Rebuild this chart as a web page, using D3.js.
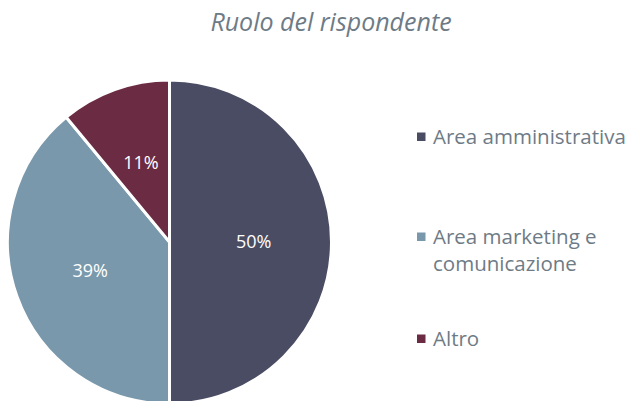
<!DOCTYPE html>
<html>
<head>
<meta charset="utf-8">
<script src="https://cdn.jsdelivr.net/npm/d3@7"></script>
<style>
  html, body { margin: 0; padding: 0; background: #fff; }
  svg { display: block; font-family: "Open Sans", Lato, sans-serif; }
</style>
</head>
<body>
<svg id="chart"></svg>
<script>
// data
const categories = ["Area amministrativa", "Area marketing e comunicazione", "Altro"];
const values = [50, 39, 11];
const legendLines = [["Area amministrativa"], ["Area marketing e", "comunicazione"], ["Altro"]];
const colors = ["#4a4c63", "#7a98ab", "#6b2b42"];

const width = 632;
const height = 401;
const radius = 162;
const cx = 169.5;
const cy = 242;

const svg = d3.select("#chart")
  .attr("width", width)
  .attr("height", height)
  .attr("viewBox", `0 0 ${width} ${height}`);

// title
svg.append("text")
  .attr("x", 331)
  .attr("y", 31)
  .attr("text-anchor", "middle")
  .attr("font-style", "italic")
  .attr("font-size", 25)
  .attr("fill", "#6e7b86")
  .text("Ruolo del rispondente");

const color = d3.scaleOrdinal().domain(categories).range(colors);

const pie = d3.pie().sort(null).value((d) => d.value);
const data = categories.map((c, i) => ({ name: c, value: values[i] }));
const arcs = pie(data);

const arc = d3.arc().innerRadius(0).outerRadius(radius);
const labelArc = d3.arc().innerRadius(radius * 0.52).outerRadius(radius * 0.52);

const g = svg.append("g").attr("transform", `translate(${cx},${cy})`);

g.selectAll("path")
  .data(arcs)
  .join("path")
  .attr("d", arc)
  .attr("fill", (d) => color(d.data.name))
  .attr("stroke", "#fff")
  .attr("stroke-width", 3)
  .attr("stroke-linejoin", "round");

const total = d3.sum(values);
g.selectAll("text.lbl")
  .data(arcs)
  .join("text")
  .attr("class", "lbl")
  .attr("transform", (d) => `translate(${labelArc.centroid(d)})`)
  .attr("text-anchor", "middle")
  .attr("dy", "0.36em")
  .attr("font-size", 18)
  .attr("fill", "#fff")
  .text((d) => Math.round((d.data.value / total) * 100) + "%");

// legend
const legendY = [137, 237, 339];
const legend = svg.append("g").attr("transform", "translate(417,0)");
const items = legend.selectAll("g")
  .data(categories)
  .join("g")
  .attr("transform", (d, i) => `translate(0,${legendY[i]})`);

items.append("rect")
  .attr("x", 0)
  .attr("y", -4.5)
  .attr("width", 8.5)
  .attr("height", 8.5)
  .attr("fill", (d) => color(d));

items.append("text")
  .attr("x", 16)
  .attr("y", 6.5)
  .attr("font-size", 20.5)
  .attr("fill", "#6e7b86")
  .selectAll("tspan")
  .data((d, i) => legendLines[i])
  .join("tspan")
  .attr("x", 16)
  .attr("dy", (d, j) => (j === 0 ? 0 : 27))
  .text((d) => d);
</script>
</body>
</html>
